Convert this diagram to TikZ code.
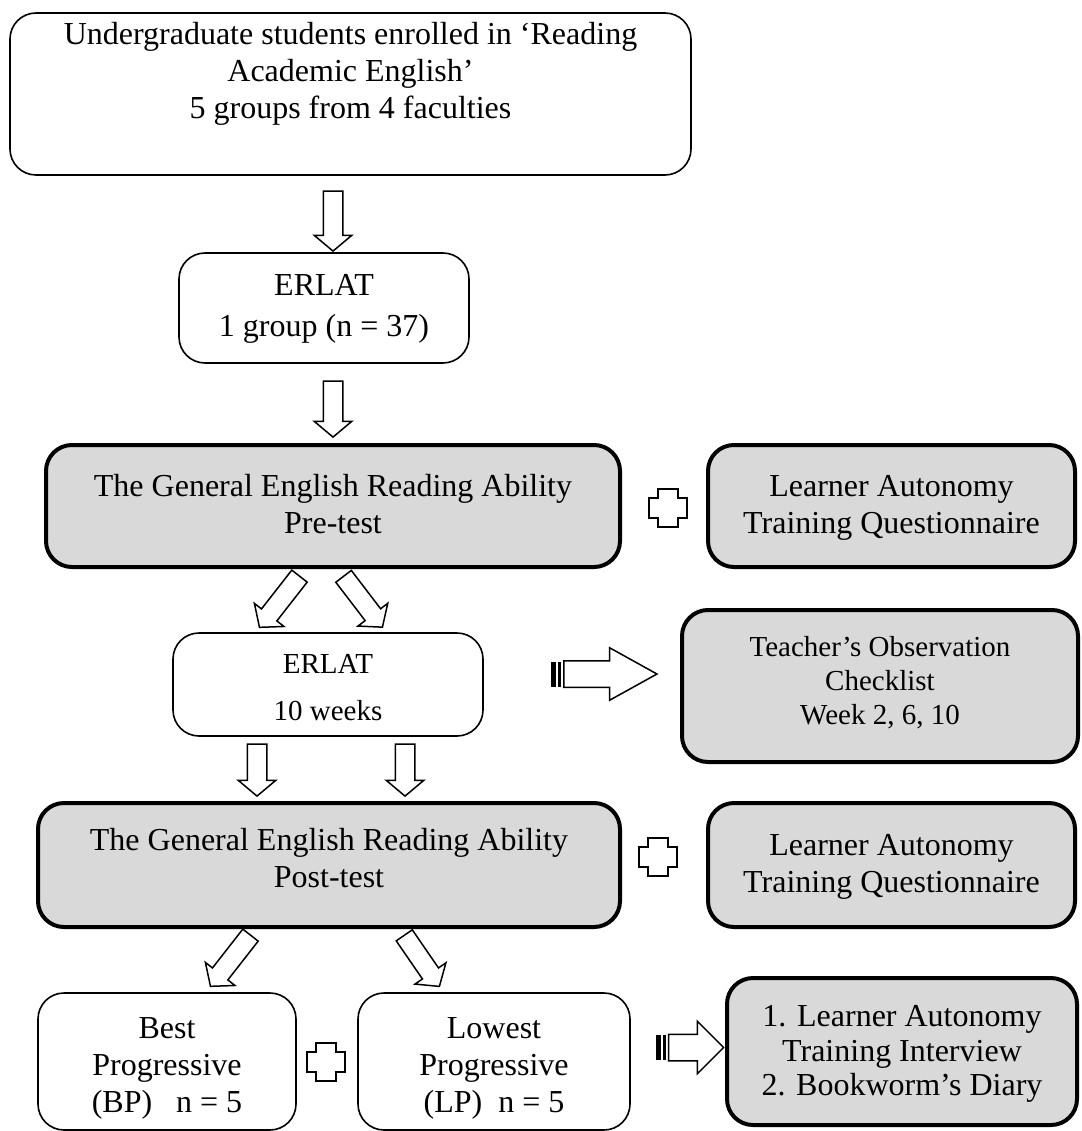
\documentclass[tikz,border=0pt]{standalone}
\usepackage{fontspec}
\setmainfont{Liberation Serif}
\usetikzlibrary{shapes.arrows,calc}
\definecolor{boxgray}{RGB}{217,217,217}

\begin{document}
\begin{tikzpicture}[x=1pt,y=-1pt,
  box/.style={draw, rounded corners=26pt, line width=1.6pt, fill=white, inner sep=0pt},
  gbox/.style={draw, rounded corners=26pt, line width=4pt, fill=boxgray, inner sep=0pt},
  txt/.style={align=center, inner sep=0pt, font=\fontsize{32}{37}\selectfont},
  stxt/.style={align=center, inner sep=0pt, font=\fontsize{29}{34}\selectfont},
  barrow/.style={single arrow, draw, line width=1.5pt, fill=white,
    inner xsep=0pt, inner ysep=9pt, single arrow head extend=9pt,
    single arrow tip angle=100, minimum height=#1, anchor=center},
  sarrow/.style={single arrow, draw, line width=1.5pt, fill=white,
    inner xsep=0pt, inner ysep=12.5pt, single arrow head extend=13pt,
    single arrow tip angle=#1, anchor=center},
  plussign/.pic={\draw[line width=1.5pt, fill=white]
    (-10,-19) -- (10,-19) -- (10,-10) -- (19,-10) -- (19,10) -- (10,10)
    -- (10,19) -- (-10,19) -- (-10,10) -- (-19,10) -- (-19,-10) -- (-10,-10) -- cycle;}
]
\useasboundingbox (0,0) rectangle (1081,1131);

% boxes
\node[box, minimum width=681pt, minimum height=162pt] (b1) at (350.5,94) {};
\node[txt] (b1t) at (350.5,74) {Undergraduate students enrolled in `Reading\\Academic English'\\5 groups from 4 faculties};

\node[box, minimum width=290pt, minimum height=110pt] (b2) at (324,308) {};
\node[txt] (b2t) at (324,309) {ERLAT\\[4pt]1 group (n = 37)};

\node[gbox, minimum width=574pt, minimum height=122pt] (pre) at (333,506) {};
\node[txt] (pret) at (333,504) {The General English Reading Ability\\Pre-test};

\node[gbox, minimum width=367pt, minimum height=122pt] (la1) at (891.5,506) {};
\node[txt] (la1t) at (891.5,508) {Learner Autonomy\\Training Questionnaire};

\node[box, minimum width=310pt, minimum height=103pt] (b4) at (328,684.5) {};
\node[stxt] (b4t) at (328,688) {ERLAT\\[13pt]10 weeks};

\node[gbox, minimum width=396pt, minimum height=152pt] (obs) at (880,686) {};
\node[stxt] (obst) at (880,683) {Teacher's Observation\\Checklist\\Week 2, 6, 10};

\node[gbox, minimum width=582pt, minimum height=124pt] (post) at (329,865) {};
\node[txt] (postt) at (329,858) {The General English Reading Ability\\Post-test};

\node[gbox, minimum width=367pt, minimum height=124pt] (la2) at (891.5,865) {};
\node[txt] (la2t) at (891.5,867) {Learner Autonomy\\Training Questionnaire};

\node[box, minimum width=258pt, minimum height=137pt] (bp) at (167,1061.5) {};
\node[txt] (bpt) at (167,1068) {Best\\Progressive\\(BP)\enspace\ n = 5};

\node[box, minimum width=272pt, minimum height=137pt] (lp) at (494,1061.5) {};
\node[txt] (lpt) at (494,1068) {Lowest\\Progressive\\(LP)\enspace n = 5};

\node[gbox, minimum width=350pt, minimum height=147pt] (intv) at (902,1051.5) {};
\node[txt, font=\fontsize{32}{34.5}\selectfont] (intvt) at (902,1054) {1. Learner Autonomy\\Training Interview\\2. Bookworm's Diary};

% block arrows between stages
\node[barrow=60pt, rotate=-90] (a1) at (333,217) {};
\node[barrow=56pt, rotate=-90] (a2) at (333,405) {};
\node[barrow=65pt, rotate=-128] (a3) at (282,598.5) {};
\node[barrow=64pt, rotate=-52.6] (a4) at (360.5,598.5) {};
\node[barrow=52pt, rotate=-90] (a5) at (257,766) {};
\node[barrow=52pt, rotate=-90] (a6) at (405,766) {};
\node[barrow=65pt, rotate=-128] (a7) at (233,957.5) {};
\node[barrow=62pt, rotate=-55.5] (a8) at (419.5,957.5) {};

% striped arrows
\node[sarrow=58, minimum height=93pt] (s1) at (598.5,674) {};
\fill ($(s1.tail)+(-12,-12.5)$) rectangle ($(s1.tail)+(-7,12.5)$);
\fill ($(s1.tail)+(-5,-12.5)$) rectangle ($(s1.tail)+(-2,12.5)$);
\node[sarrow=90, minimum height=55pt] (s2) at (689.5,1047.5) {};
\fill ($(s2.tail)+(-12,-12.5)$) rectangle ($(s2.tail)+(-7,12.5)$);
\fill ($(s2.tail)+(-5,-12.5)$) rectangle ($(s2.tail)+(-2,12.5)$);

% plus signs
\pic at (668,508) {plussign};
\pic at (658,857) {plussign};
\pic at (326,1062) {plussign};
\end{tikzpicture}
\end{document}
